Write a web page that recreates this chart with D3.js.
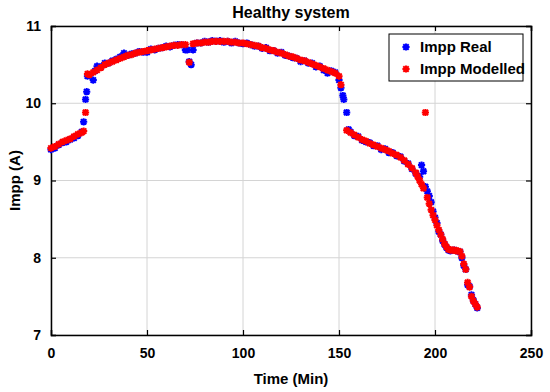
<!DOCTYPE html>
<html><head><meta charset="utf-8">
<script src="https://cdn.jsdelivr.net/npm/d3@7/dist/d3.min.js"></script>
<style>
html,body{margin:0;padding:0;background:#fff;}
text{font-family:"Liberation Sans",Arial,sans-serif;font-weight:bold;}
</style></head>
<body><svg id="c" width="550" height="392"></svg>
<script>
const title = "Healthy system";
const xLabel = "Time (Min)";
const yLabel = "Impp (A)";
const xTicks = [0, 50, 100, 150, 200, 250];
const yTicks = [7, 8, 9, 10, 11];
const seriesNames = ["Impp Real", "Impp Modelled"];

const realTime = [0,2,4,6,8,10,12,14,16,17,18,18.6,19,20,22,23,24,26,28,30,32,34,36,38,40,42,44,46,48,50,52,54,56,58,60,62,64,66,68,70,71,72,73,74,76,78,80,82,84,86,88,90,92,94,96,98,100,102,104,106,108,110,112,114,116,118,120,122,124,126,128,130,132,134,136,138,140,142,144,146,148,150,151,152,152.5,154,155,156,158,160,162,164,166,168,170,172,174,176,178,180,182,184,186,188,190,192,193,194,195,196,197,198,199,200,201,202,203,204,205,206,207,208,210,212,213,214,215,216,217,218,219,220,221,222];
const realImpp = [9.40,9.42,9.46,9.49,9.50,9.53,9.55,9.58,9.63,9.76,10.05,10.15,10.35,10.36,10.30,10.42,10.48,10.47,10.52,10.52,10.55,10.57,10.60,10.65,10.62,10.64,10.65,10.67,10.66,10.66,10.70,10.69,10.71,10.72,10.74,10.73,10.75,10.76,10.76,10.69,10.69,10.54,10.50,10.69,10.78,10.78,10.80,10.79,10.81,10.80,10.81,10.79,10.80,10.78,10.80,10.78,10.77,10.78,10.76,10.74,10.74,10.71,10.72,10.68,10.68,10.65,10.66,10.62,10.61,10.59,10.58,10.54,10.55,10.52,10.52,10.47,10.48,10.43,10.39,10.42,10.40,10.30,10.20,10.10,10.05,9.88,9.66,9.63,9.58,9.57,9.52,9.50,9.49,9.45,9.45,9.40,9.41,9.36,9.36,9.32,9.31,9.25,9.22,9.15,9.09,9.05,9.20,9.12,8.92,8.86,8.80,8.72,8.60,8.52,8.45,8.34,8.30,8.22,8.17,8.13,8.10,8.09,8.10,8.08,8.08,8.00,7.90,7.85,7.65,7.63,7.52,7.45,7.40,7.35];

const modTime = [0,2,4,6,8,10,12,14,16,17,18,19,20,22,24,26,28,30,32,34,36,38,40,42,44,46,48,50,52,54,56,58,60,62,64,66,68,70,72,74,76,78,80,82,84,86,88,90,92,94,96,98,100,102,104,106,108,110,112,114,116,118,120,122,124,126,128,130,132,134,136,138,140,142,144,146,148,150,151,154,156,158,160,162,164,166,168,170,172,174,176,178,180,182,184,186,188,190,191,192,193,194,195,196,197,198,199,200,201,202,203,204,205,206,207,208,209,210,211,212,213,214,215,216,217,218,219,220,221,222];
const modImpp = [9.42,9.44,9.47,9.50,9.52,9.54,9.57,9.60,9.62,9.64,9.88,10.38,10.37,10.40,10.43,10.46,10.50,10.52,10.54,10.56,10.58,10.60,10.62,10.63,10.65,10.66,10.67,10.68,10.69,10.70,10.71,10.72,10.73,10.74,10.75,10.75,10.76,10.76,10.53,10.77,10.78,10.78,10.79,10.79,10.80,10.80,10.80,10.80,10.80,10.79,10.79,10.78,10.78,10.77,10.76,10.75,10.74,10.72,10.71,10.69,10.68,10.66,10.65,10.63,10.61,10.60,10.58,10.56,10.55,10.53,10.51,10.49,10.47,10.45,10.43,10.41,10.39,10.35,10.24,9.65,9.62,9.59,9.56,9.53,9.51,9.48,9.46,9.44,9.42,9.40,9.38,9.35,9.33,9.30,9.26,9.21,9.16,9.10,9.05,9.00,8.95,8.90,9.88,8.78,8.70,8.62,8.55,8.49,8.42,8.36,8.30,8.24,8.18,8.14,8.11,8.10,8.10,8.10,8.09,8.09,8.08,8.02,7.92,7.85,7.68,7.62,7.50,7.44,7.40,7.36];

const colors = ["#0000ff", "#ff0000"];

const svg = d3.select("#c");
const L = 51, R = 531, T = 26, B = 335;
const x = d3.scaleLinear().domain([0, 250]).range([L, R]);
const y = d3.scaleLinear().domain([7, 11]).range([B, T]);

// grid
const g = svg.append("g");
g.selectAll("line.gx").data(xTicks).enter().append("line")
  .attr("x1", d => x(d)).attr("x2", d => x(d)).attr("y1", T).attr("y2", B)
  .attr("stroke", "#d4d4d4").attr("stroke-width", 1);
g.selectAll("line.gy").data(yTicks).enter().append("line")
  .attr("x1", L).attr("x2", R).attr("y1", d => y(d)).attr("y2", d => y(d))
  .attr("stroke", "#d4d4d4").attr("stroke-width", 1);

// axes
const xAxis = d3.axisBottom(x).tickValues(xTicks).tickSize(-5).tickPadding(10).tickFormat(d3.format("d"));
const yAxis = d3.axisLeft(y).tickValues(yTicks).tickSize(-5).tickPadding(10).tickFormat(d3.format("d"));
const xa = svg.append("g").attr("transform", `translate(0,${B})`).call(xAxis);
const ya = svg.append("g").attr("transform", `translate(${L},0)`).call(yAxis);
const xt = svg.append("g").attr("transform", `translate(0,${T})`).call(d3.axisTop(x).tickValues(xTicks).tickSize(-5).tickFormat(""));
const yr = svg.append("g").attr("transform", `translate(${R},0)`).call(d3.axisRight(y).tickValues(yTicks).tickSize(-5).tickFormat(""));
[xa, ya, xt, yr].forEach(a => {
  a.select(".domain").attr("stroke", "#000").attr("stroke-width", 1.5);
  a.selectAll(".tick line").attr("stroke", "#000").attr("stroke-width", 1.2);
  a.selectAll("text").attr("font-size", 14).attr("font-weight", "bold").attr("fill", "#000")
    .attr("font-family", "Liberation Sans, Arial, sans-serif");
});
xa.selectAll(".tick text").attr("dy", "0.9em");

// asterisk marker
const s = 3.6, d2 = 2.7;
const star = `M${-s},0L${s},0M0,${-s}L0,${s}M${-d2},${-d2}L${d2},${d2}M${-d2},${d2}L${d2},${-d2}`;

function drawSeries(ts, vs, color) {
  svg.append("g").selectAll("path").data(ts.map((t, i) => [t, vs[i]])).enter().append("path")
    .attr("d", star)
    .attr("transform", d => `translate(${x(d[0])},${y(d[1])})`)
    .attr("fill", "none").attr("stroke", color).attr("stroke-width", 2);
}
drawSeries(realTime, realImpp, colors[0]);
drawSeries(modTime, modImpp, colors[1]);

// titles
svg.append("text").attr("x", (L + R) / 2).attr("y", 18).attr("text-anchor", "middle")
  .attr("font-size", 16).text(title);
svg.append("text").attr("x", (L + R) / 2).attr("y", 384).attr("text-anchor", "middle")
  .attr("font-size", 15).text(xLabel);
svg.append("text").attr("transform", `translate(20,${(T + B) / 2}) rotate(-90)`).attr("text-anchor", "middle")
  .attr("font-size", 15).text(yLabel);

// legend
const lg = svg.append("g");
lg.append("rect").attr("x", 389).attr("y", 34).attr("width", 134).attr("height", 47)
  .attr("fill", "#fff").attr("stroke", "#000").attr("stroke-width", 1);
seriesNames.forEach((n, i) => {
  const yy = 47 + i * 22;
  lg.append("path").attr("d", star).attr("transform", `translate(406,${yy})`)
    .attr("fill", "none").attr("stroke", colors[i]).attr("stroke-width", 2);
  lg.append("text").attr("x", 420).attr("y", yy + 5).attr("font-size", 15).text(n);
});
</script></body></html>
